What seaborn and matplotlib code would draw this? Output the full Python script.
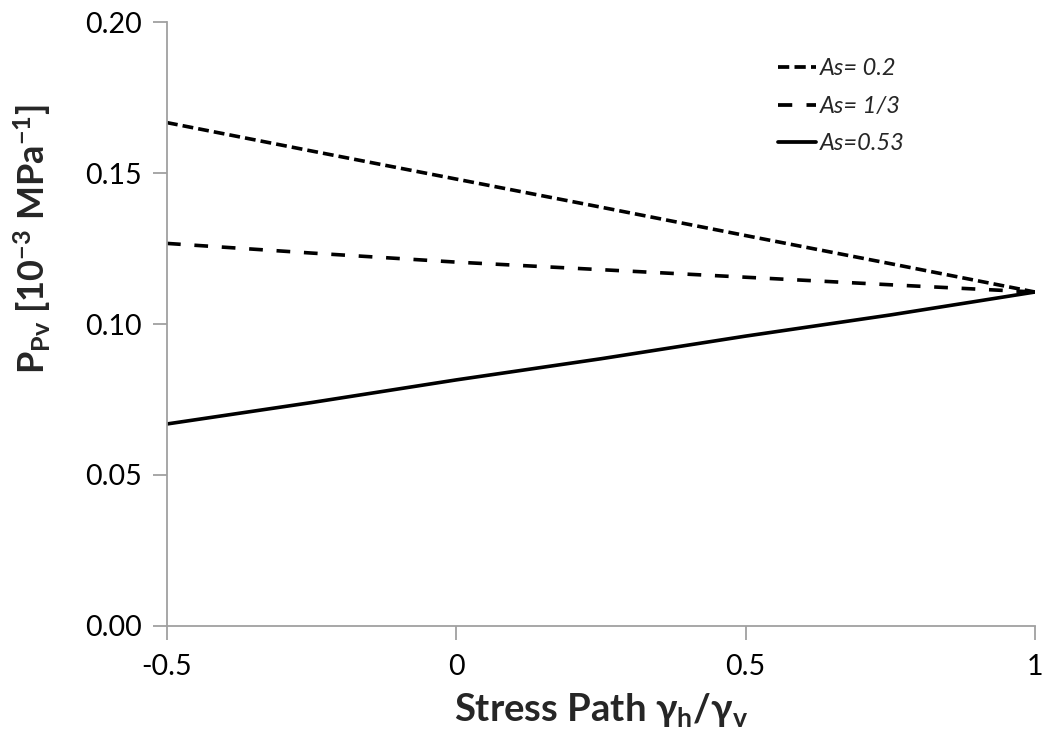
import matplotlib
matplotlib.use("Agg")
import matplotlib.pyplot as plt
import seaborn as sns
import pandas as pd

# Stress path ratio gamma_h / gamma_v
stress_path = [-0.5, -0.25, 0.0, 0.25, 0.5, 0.75, 1.0]

# Pore volume compressibility P_Pv [1e-3 MPa^-1] for each As value
p_as_02 = [0.1667, 0.1573, 0.1480, 0.1387, 0.1293, 0.1200, 0.1106]
p_as_13 = [0.1267, 0.1235, 0.1205, 0.1180, 0.1155, 0.1130, 0.1106]
p_as_053 = [0.0669, 0.0740, 0.0815, 0.0885, 0.0960, 0.1030, 0.1106]

series_labels = ["As= 0.2", "As= 1/3", "As=0.53"]
x_ticks = [-0.5, 0, 0.5, 1]
x_tick_labels = ["-0.5", "0", "0.5", "1"]
y_ticks = [0.00, 0.05, 0.10, 0.15, 0.20]
y_tick_labels = ["0.00", "0.05", "0.10", "0.15", "0.20"]

frames = []
for label, values in zip(series_labels, [p_as_02, p_as_13, p_as_053]):
    frames.append(pd.DataFrame({"x": stress_path, "y": values, "series": label}))
df = pd.concat(frames, ignore_index=True)

sns.set_theme(style="white")
plt.rcParams["font.family"] = ["Lato", "DejaVu Sans"]
plt.rcParams["mathtext.fontset"] = "custom"
plt.rcParams["mathtext.rm"] = "Lato"
plt.rcParams["mathtext.bf"] = "Lato:bold"
plt.rcParams["mathtext.it"] = "Lato:italic"

fig = plt.figure(figsize=(10.45, 7.36), dpi=100)
ax = fig.add_axes([0.1598, 0.1495, 0.8306, 0.8205])

dash_map = {
    "As= 0.2": (3.0, 1.4),
    "As= 1/3": (3.8, 3.8),
    "As=0.53": "",
}
sns.lineplot(
    data=df, x="x", y="y", style="series", dashes=dash_map,
    color="black", linewidth=2.6, ax=ax, legend=True,
)

ax.set_xlim(-0.5, 1.0)
ax.set_ylim(0.0, 0.20)
ax.set_xticks(x_ticks)
ax.set_xticklabels(x_tick_labels)
ax.set_yticks(y_ticks)
ax.set_yticklabels(y_tick_labels)

for side in ["top", "right"]:
    ax.spines[side].set_visible(False)
for side in ["left", "bottom"]:
    ax.spines[side].set_color("#a0a0a0")
    ax.spines[side].set_linewidth(1.3)

ax.tick_params(axis="both", which="major", direction="out", length=10,
               width=1.3, color="#a0a0a0", labelsize=20.5, labelcolor="black",
               left=True, bottom=True)
ax.tick_params(axis="x", pad=10)
ax.tick_params(axis="y", pad=8)

ax.set_xlabel(r"Stress Path γ$_{\mathbf{h}}$/γ$_{\mathbf{v}}$",
              fontsize=27.5, fontweight="bold", labelpad=8)
ax.set_ylabel(r"P$_{\mathbf{Pv}}$ [10$^{\mathbf{-3}}$ MPa$^{\mathbf{-1}}$]",
              fontsize=26, fontweight="bold", va="center", ha="center")
ax.yaxis.set_label_coords(-0.155, 0.64)

leg = ax.legend(loc="upper right", bbox_to_anchor=(0.874, 0.975), frameon=False,
                fontsize=17, handlelength=1.6, handletextpad=0.15,
                labelspacing=0.7, title=None)
for txt in leg.get_texts():
    txt.set_fontstyle("italic")
for line in leg.get_lines():
    line.set_linewidth(2.7)

fig.savefig("out.png", dpi=100)
